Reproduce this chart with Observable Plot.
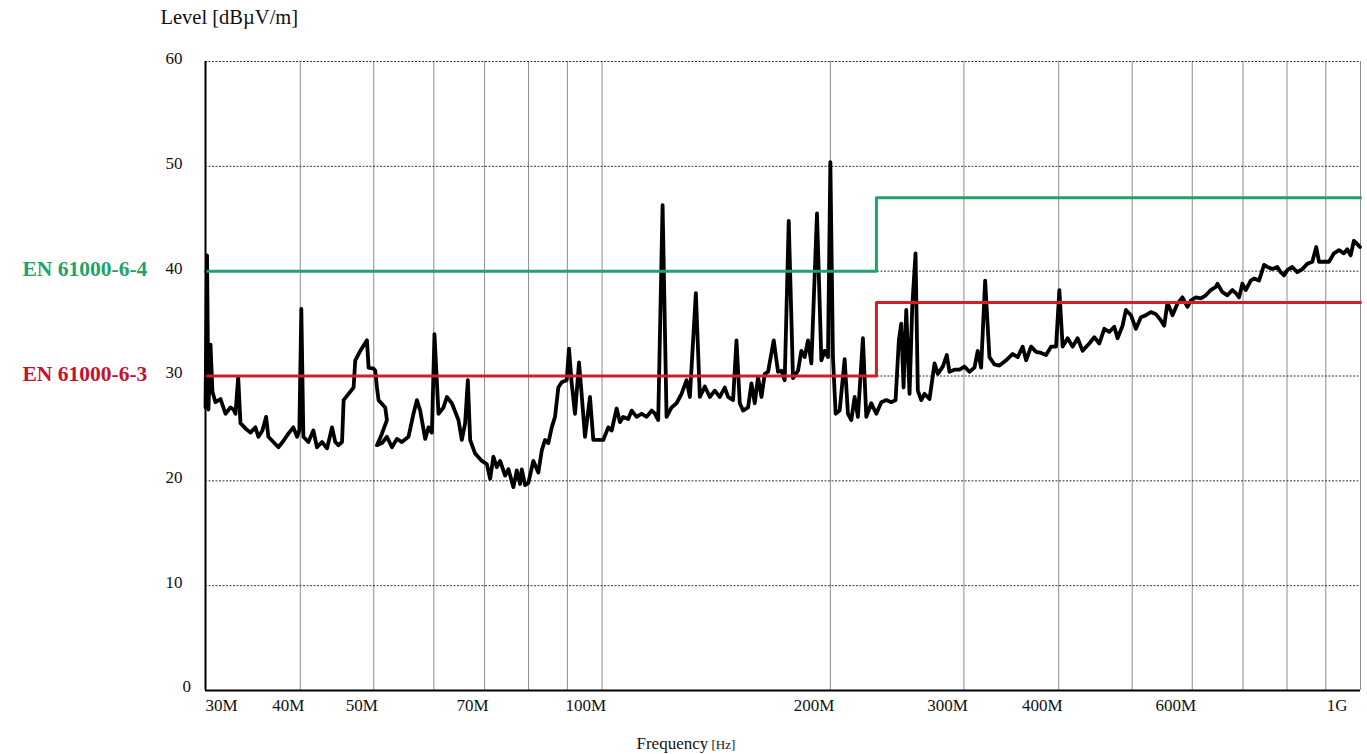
<!DOCTYPE html>
<html>
<head>
<meta charset="utf-8">
<script src="https://cdn.jsdelivr.net/npm/d3@7"></script>
<script src="https://cdn.jsdelivr.net/npm/@observablehq/plot@0.6"></script>
<style>
html, body { margin: 0; padding: 0; background: #ffffff; }
#chart { width: 1367px; height: 754px; overflow: hidden; }
#chart svg { display: block; }
</style>
</head>
<body>
<div id="chart"></div>
<script>
// Measured emission level (frequency in MHz, level in dBµV/m)
const freqMHz = [
  30.0, 30.14, 30.27, 30.46, 30.64, 30.92, 31.40, 31.88, 32.36, 32.66, 32.86, 33.13, 33.36, 33.87, 34.39, 34.91,
  35.23, 35.66, 36.06, 36.31, 36.87, 37.43, 38.00, 38.58, 39.17, 39.61, 39.89, 40.13, 40.38, 41.00, 41.62, 42.09,
  42.73, 43.39, 44.05, 44.49, 44.90, 45.41, 45.63, 46.32, 47.03, 47.27, 48.00, 48.98, 49.22, 49.97, 50.23, 50.49,
  50.73, 51.77, 52.04, 51.26, 50.49, 51.26, 52.04, 52.84, 53.64, 54.46, 55.56, 56.41, 57.00, 57.57, 58.45, 59.04,
  59.65, 60.12, 60.86, 61.79, 62.43, 63.38, 64.66, 65.33, 65.99, 66.53, 67.00, 68.02, 69.42, 70.48, 71.19, 71.90,
  72.65, 73.38, 74.50, 75.25, 76.40, 77.19, 77.96, 78.37, 79.16, 79.95, 81.17, 82.41, 83.27, 84.10, 84.95, 85.83,
  86.69, 87.56, 88.47, 89.82, 90.45, 91.19, 92.11, 93.24, 94.00, 94.95, 96.40, 97.37, 99.37, 100.36, 101.90, 102.95,
  104.53, 105.58, 106.64, 108.27, 109.39, 111.06, 112.76, 114.48, 116.23, 117.40, 118.58, 120.17, 121.63, 123.49, 125.38, 127.29,
  129.24, 130.54, 132.94, 134.56, 136.61, 138.70, 140.82, 142.97, 145.15, 146.61, 148.85, 150.39, 151.91, 153.43, 155.78, 157.39,
  158.97, 160.57, 162.24, 163.87, 165.52, 168.40, 170.61, 172.38, 174.11, 176.24, 178.55, 181.28, 183.15, 185.00, 186.86, 188.79,
  192.03, 194.60, 196.56, 198.54, 199.99, 201.57, 203.23, 205.70, 208.85, 210.95, 213.13, 215.28, 217.44, 220.76, 223.05, 226.46,
  229.92, 233.43, 236.99, 240.61, 243.77, 246.22, 248.02, 249.76, 251.81, 254.34, 256.43, 259.01, 260.82, 263.52, 266.17, 270.24,
  274.37, 277.13, 281.36, 284.79, 287.13, 291.52, 295.97, 300.49, 305.08, 309.74, 312.85, 316.10, 319.95, 324.15, 329.11, 334.13,
  340.99, 347.88, 353.20, 358.59, 362.31, 367.84, 373.46, 379.16, 384.96, 390.84, 396.81, 400.80, 404.83, 411.01, 417.29, 423.66,
  430.13, 438.96, 445.66, 452.47, 459.38, 466.40, 473.52, 478.29, 485.59, 490.62, 498.11, 505.72, 513.45, 521.29, 529.25, 537.34,
  545.54, 551.03, 556.57, 565.07, 573.70, 582.47, 591.36, 597.49, 606.62, 615.88, 625.29, 634.84, 644.53, 647.67, 657.56, 667.60,
  677.80, 684.82, 691.71, 698.66, 705.91, 716.68, 723.89, 734.95, 746.17, 753.67, 765.19, 776.87, 784.92, 792.81, 800.78, 813.01,
  825.43, 838.04, 850.84, 863.84, 874.37, 881.56, 895.03, 908.70, 922.58, 936.67, 950.98, 960.54, 970.49, 980.25, 990.10, 998.25
];
const levelDb = [
  27.0, 41.5, 26.8, 33.0, 28.5, 27.5, 27.8, 26.4, 27.0, 26.8, 26.4, 29.9, 25.5, 25.0, 24.6, 25.1,
  24.2, 24.8, 26.1, 24.2, 23.7, 23.2, 23.8, 24.5, 25.1, 24.2, 24.8, 36.4, 24.2, 23.7, 24.8, 23.2,
  23.7, 23.1, 25.1, 23.7, 23.4, 23.7, 27.7, 28.3, 28.9, 31.5, 32.4, 33.4, 30.8, 30.7, 30.5, 28.9,
  27.7, 27.0, 25.8, 24.5, 23.4, 23.6, 24.2, 23.2, 24.0, 23.7, 24.2, 26.4, 27.7, 26.7, 24.0, 25.1,
  24.6, 34.0, 26.4, 27.0, 28.0, 27.4, 25.8, 23.9, 25.5, 29.6, 23.9, 22.6, 21.9, 21.6, 20.2, 22.3,
  21.3, 21.9, 20.5, 21.1, 19.4, 21.0, 19.7, 21.1, 19.6, 19.8, 21.9, 20.8, 22.9, 23.9, 23.6, 25.1,
  26.1, 28.9, 29.4, 29.6, 32.6, 29.3, 26.4, 31.3, 28.2, 24.2, 28.0, 23.9, 23.9, 23.9, 25.1, 24.8,
  26.9, 25.6, 26.1, 25.9, 26.7, 26.1, 26.4, 26.1, 26.7, 26.4, 25.8, 46.3, 26.1, 27.0, 27.4, 28.3,
  29.6, 28.0, 37.9, 28.0, 29.0, 28.0, 28.6, 28.0, 28.9, 28.0, 27.7, 33.4, 27.4, 26.7, 27.0, 29.3,
  27.4, 29.9, 28.0, 30.2, 30.4, 33.4, 30.4, 30.5, 29.6, 44.8, 29.8, 30.5, 32.4, 31.8, 33.4, 31.2,
  45.5, 31.5, 32.4, 31.8, 50.4, 31.8, 26.4, 26.7, 31.6, 26.4, 25.8, 28.0, 26.1, 33.6, 26.1, 27.4,
  26.4, 27.5, 27.7, 27.5, 27.7, 33.4, 35.0, 28.9, 36.3, 28.3, 36.6, 41.7, 28.6, 27.7, 28.3, 27.8,
  31.2, 30.2, 30.9, 32.0, 30.4, 30.6, 30.6, 30.9, 30.4, 30.8, 32.4, 30.8, 39.1, 31.8, 31.1, 31.0,
  31.5, 32.1, 31.8, 32.8, 31.5, 32.8, 32.3, 32.2, 32.0, 32.8, 32.8, 38.2, 32.8, 33.6, 32.8, 33.6,
  32.4, 33.1, 33.7, 33.1, 34.5, 34.2, 34.7, 33.6, 34.8, 36.3, 35.8, 34.5, 35.6, 35.8, 36.1, 35.9,
  35.3, 34.8, 37.0, 35.8, 36.9, 37.5, 36.6, 37.2, 37.5, 37.4, 37.7, 38.2, 38.5, 38.8, 38.0, 37.7,
  38.2, 37.9, 37.5, 38.8, 38.2, 39.1, 39.3, 39.1, 40.6, 40.4, 40.2, 40.4, 39.9, 39.6, 40.1, 40.4,
  39.9, 40.2, 40.7, 40.9, 42.3, 40.9, 40.9, 40.9, 41.7, 42.0, 41.7, 42.1, 41.5, 42.9, 42.6, 42.3
];

// Limit lines (step at 230 MHz)
const limitFreq = [30, 230, 230, 1000];
const limitEN64 = [40, 40, 47, 47];
const limitEN63 = [30, 30, 37, 37];
const limitNames = ["EN 61000-6-4", "EN 61000-6-3"];
const limitRefLevel = [40, 30];

// Axes
const gridFreq = [30, 40, 50, 60, 70, 80, 90, 100, 200, 300, 400, 500, 600, 700, 800, 900, 1000];
const tickFreq = [30, 40, 50, 70, 100, 200, 300, 400, 600, 1000];
const tickLabels = ["30M", "40M", "50M", "70M", "100M", "200M", "300M", "400M", "600M", "1G"];
const levelTicks = [0, 10, 20, 30, 40, 50, 60];
const yTitle = "Level [dBµV/m]";
const xTitle = "Frequency";
const xUnit = "[Hz]";

const curve = freqMHz.map((f, i) => ({f, v: levelDb[i]}));
const lim64 = limitFreq.map((f, i) => ({f, v: limitEN64[i]}));
const lim63 = limitFreq.map((f, i) => ({f, v: limitEN63[i]}));
const xTicks = tickFreq.map((f, i) => ({f, label: tickLabels[i], i}));
const lastTick = xTicks.length - 1;

const GREEN = "#1fa36b";
const RED = "#d21f26";
const FONT = "'Liberation Serif', 'Times New Roman', serif";

const chart = Plot.plot({
  width: 1367,
  height: 754,
  marginLeft: 205,
  marginRight: 7,
  marginTop: 61,
  marginBottom: 64,
  style: {background: "#ffffff", fontFamily: FONT, overflow: "visible"},
  x: {type: "log", domain: [30, 1000], axis: null},
  y: {type: "linear", domain: [0, 60], axis: null},
  marks: [
    // grid
    Plot.ruleX(gridFreq, {x: d => d, stroke: "#8c8c8c", strokeWidth: 1}),
    Plot.ruleY(levelTicks.filter(v => v > 0), {y: d => d, stroke: "#333333", strokeWidth: 1, strokeDasharray: "2,1.5"}),
    // measured curve
    Plot.line(curve, {x: "f", y: "v", stroke: "#000000", strokeWidth: 3.8, strokeLinejoin: "round", strokeLinecap: "round"}),
    // limit lines
    Plot.line(lim63, {x: "f", y: "v", stroke: RED, strokeWidth: 3}),
    Plot.line(lim64, {x: "f", y: "v", stroke: GREEN, strokeWidth: 3}),
    // axis lines
    Plot.ruleX([30], {x: d => d, stroke: "#000000", strokeWidth: 2}),
    Plot.ruleY([0], {y: d => d, stroke: "#000000", strokeWidth: 2}),
    // y tick labels
    Plot.text(levelTicks.filter(v => v > 0), {y: d => d, text: d => String(d), frameAnchor: "left", textAnchor: "end", dx: -23, dy: -3, fontSize: 17, fill: "#111"}),
    Plot.text(levelTicks.filter(v => v === 0), {y: d => d, text: d => String(d), frameAnchor: "left", textAnchor: "start", dx: -23, dy: -4, fontSize: 17, fill: "#111"}),
    // x tick labels
    Plot.text(xTicks.filter(d => d.i === 0), {x: "f", text: "label", frameAnchor: "bottom", lineAnchor: "top", textAnchor: "start", dx: 0, dy: 8, fontSize: 17, fill: "#111"}),
    Plot.text(xTicks.filter(d => d.i > 0 && d.i < lastTick), {x: "f", text: "label", frameAnchor: "bottom", lineAnchor: "top", textAnchor: "end", dx: 4, dy: 8, fontSize: 17, fill: "#111"}),
    Plot.text(xTicks.filter(d => d.i === lastTick), {x: "f", text: "label", frameAnchor: "bottom", lineAnchor: "top", textAnchor: "end", dx: -13, dy: 8, fontSize: 17, fill: "#111"}),
    // limit names
    Plot.text([limitNames[0]], {y: () => limitRefLevel[0], text: d => d, frameAnchor: "left", textAnchor: "start", dx: -183, dy: -2, fontSize: 21.5, fontWeight: "bold", fill: GREEN}),
    Plot.text([limitNames[1]], {y: () => limitRefLevel[1], text: d => d, frameAnchor: "left", textAnchor: "start", dx: -183, dy: -2, fontSize: 21.5, fontWeight: "bold", fill: "#c8102e"}),
    // axis titles
    Plot.text([yTitle], {frameAnchor: "top-left", text: d => d, textAnchor: "start", lineAnchor: "bottom", dx: -45, dy: -38, fontSize: 20.5, fill: "#111"}),
    Plot.text([xTitle], {frameAnchor: "bottom-left", text: d => d, textAnchor: "start", lineAnchor: "bottom", dx: 431, dy: 58, fontSize: 17, fill: "#111"}),
    Plot.text([xUnit], {frameAnchor: "bottom-left", text: d => d, textAnchor: "start", lineAnchor: "bottom", dx: 506, dy: 58, fontSize: 13, fill: "#111"})
  ]
});

document.getElementById("chart").appendChild(chart);
</script>
</body>
</html>
